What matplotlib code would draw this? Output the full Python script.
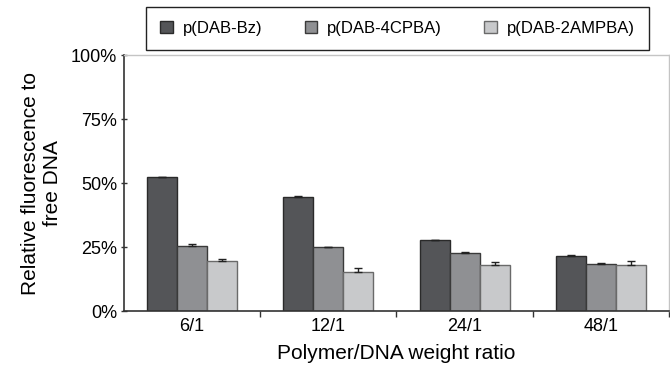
import numpy as np
from matplotlib import pyplot as plt
from matplotlib.ticker import FixedLocator, PercentFormatter

plt.rcParams['font.family'] = ['Liberation Sans', 'DejaVu Sans']

ratios = ["6/1", "12/1", "24/1", "48/1"]
series = ["p(DAB-Bz)", "p(DAB-4CPBA)", "p(DAB-2AMPBA)"]
bz = [52.4, 44.7, 27.9, 21.8]
bz_err = [0.3, 0.6, 0.2, 0.2]
cpba = [25.5, 25.1, 22.9, 18.6]
cpba_err = [1.0, 0.2, 0.2, 0.2]
ampba = [19.6, 15.6, 18.0, 18.3]
ampba_err = [0.8, 1.2, 1.4, 1.3]
colors = ["#545558", "#8f9093", "#c8c9cb"]
edges = ["#2a2a2a", "#3a3a3a", "#6a6a6a"]

fig = plt.figure(figsize=(6.7, 3.65), dpi=100)
ax = fig.add_axes([0.185, 0.1466, 0.8135, 0.7014])

x = np.arange(len(ratios))
w = 0.22
for i, (vals, errs) in enumerate([(bz, bz_err), (cpba, cpba_err), (ampba, ampba_err)]):
    ax.bar(x + (i - 1) * w, vals, w, color=colors[i], edgecolor=edges[i],
           linewidth=1, label=series[i], zorder=2,
           yerr=[np.zeros(len(errs)), errs],
           error_kw=dict(ecolor="#222222", elinewidth=1, capsize=3, capthick=1))

ax.set_xlim(-0.5, 3.5)
ax.set_ylim(0, 100)
ax.yaxis.set_major_locator(FixedLocator([0, 25, 50, 75, 100]))
ax.yaxis.set_major_formatter(PercentFormatter(decimals=0))
ax.set_xticks(x)
ax.set_xticklabels(ratios, fontsize=13)
ax.set_xticks([0.5, 1.5, 2.5, 3.5], minor=True)
ax.tick_params(axis="x", which="major", length=0, pad=5)
ax.tick_params(axis="x", which="minor", length=4, width=1, color="#333333")
ax.tick_params(axis="y", length=4, width=1, color="#333333", direction="inout",
               labelsize=13, pad=3)

for s in ["left", "bottom"]:
    ax.spines[s].set_color("#333333")
    ax.spines[s].set_linewidth(1.2)
for s in ["top", "right"]:
    ax.spines[s].set_color("#c4c4c4")
    ax.spines[s].set_linewidth(1)

ax.set_xlabel("Polymer/DNA weight ratio", fontsize=15, labelpad=6)
ax.set_ylabel("Relative fluorescence to\nfree DNA", fontsize=15, labelpad=6)

leg = fig.legend(loc="lower left", ncol=3, mode="expand",
                 bbox_to_anchor=(146 / 670, 1 - 50 / 365, 503 / 670, 41 / 365),
                 fontsize=12, handlelength=0.75, handleheight=0.75,
                 handletextpad=0.6, borderpad=0.85, borderaxespad=0,
                 fancybox=False, edgecolor="#222222", framealpha=1)
leg.get_frame().set_linewidth(1)

fig.savefig("out.png", dpi=100)
